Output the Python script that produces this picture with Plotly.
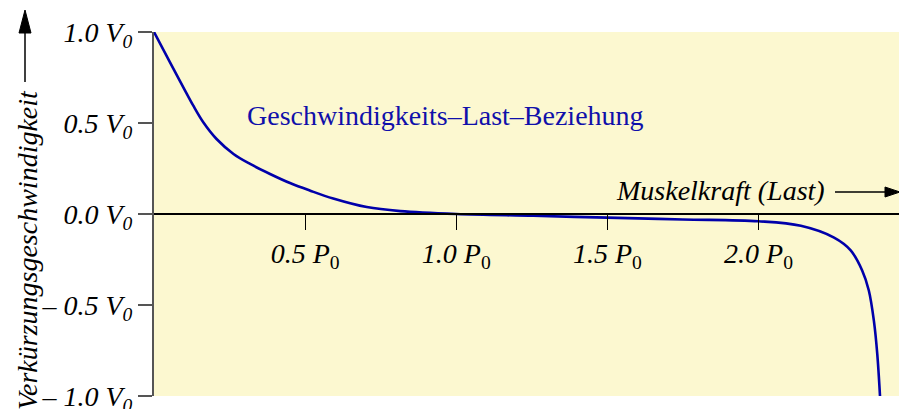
import plotly.graph_objects as go

# Load (in units of P0) and shortening velocity (in units of V0)
load = [0, 0.053, 0.097, 0.130, 0.163, 0.207, 0.263, 0.318, 0.384, 0.450,
        0.517, 0.593, 0.704, 0.815, 1.0, 1.255, 1.5, 1.75, 2.0, 2.14,
        2.25, 2.305, 2.343, 2.365, 2.382, 2.393, 2.402]
velocity = [1.0, 0.833, 0.696, 0.595, 0.504, 0.412, 0.330, 0.275, 0.220, 0.170,
            0.128, 0.085, 0.038, 0.016, 0.0, -0.01, -0.02, -0.03, -0.04, -0.065,
            -0.13, -0.20, -0.31, -0.42, -0.59, -0.77, -1.0]

x_ticks = [0.5, 1.0, 1.5, 2.0]
x_labels = ["<i>0.5 P</i><sub>0</sub>", "<i>1.0 P</i><sub>0</sub>",
            "<i>1.5 P</i><sub>0</sub>", "<i>2.0 P</i><sub>0</sub>"]
y_ticks = [-1.0, -0.5, 0.0, 0.5, 1.0]
y_labels = ["– <i>1.0 V<sub>0</sub></i>", "– <i>0.5 V<sub>0</sub></i>",
            "<i>0.0 V<sub>0</sub></i>", "<i>0.5 V<sub>0</sub></i>",
            "<i>1.0 V<sub>0</sub></i>"]

W, H = 899, 409
L, R, T, B = 154, 0, 32, 13
SERIF = "Liberation Serif"
FS = 28


def px(xp):
    return (xp - L) / (W - L - R)


def py(yp):
    return (H - B - yp) / (H - T - B)


fig = go.Figure()
fig.add_trace(go.Scatter(
    x=load, y=velocity, mode="lines",
    line=dict(color="#0000AA", width=2.6, shape="spline", smoothing=1.0),
    hoverinfo="skip", showlegend=False, cliponaxis=True,
))

fig.update_layout(
    width=W, height=H, autosize=False,
    margin=dict(l=L, r=R, t=T, b=B, pad=0),
    paper_bgcolor="white", plot_bgcolor="#FCF8D0",
    font=dict(family=SERIF, size=FS, color="black"),
    xaxis=dict(
        range=[0, (W - L - R) / 302.25], anchor="free", position=0.5, automargin=False,
        showgrid=False, zeroline=False, showline=True, linecolor="black", linewidth=1.5,
        ticks="outside", ticklen=15, tickwidth=1.2, tickcolor="black",
        tickvals=x_ticks, ticktext=x_labels, tickfont=dict(family=SERIF, size=FS),
    ),
    yaxis=dict(
        range=[-1, 1], automargin=False, showgrid=False, zeroline=False,
        showline=True, linecolor="#555555", linewidth=2,
        ticks="outside", ticklen=14, tickwidth=1.5, tickcolor="#555555",
        tickvals=y_ticks, ticktext=y_labels, tickfont=dict(family=SERIF, size=FS),
        ticklabeloverflow="allow",
    ),
)

# Curve caption
fig.add_annotation(
    x=0.301, y=0.54, xref="x", yref="y", xanchor="left", yanchor="middle",
    text="Geschwindigkeits–Last–Beziehung", showarrow=False,
    font=dict(family=SERIF, size=FS, color="#1010AA"),
)

# Horizontal axis title with arrow
fig.add_annotation(
    x=px(827), y=py(190), xref="paper", yref="paper", xanchor="right", yanchor="middle",
    text="<i>Muskelkraft (Last)</i>", showarrow=False,
    font=dict(family=SERIF, size=FS, color="black"),
)
fig.add_shape(type="line", xref="paper", yref="paper",
              x0=px(835), y0=py(192), x1=px(888), y1=py(192),
              line=dict(color="black", width=1.5))
fig.add_shape(type="path", xref="paper", yref="paper",
              path=f"M {px(885)} {py(187)} L {px(900)} {py(192)} L {px(885)} {py(197)} Z",
              fillcolor="black", line=dict(color="black", width=1))

# Vertical axis title with arrow
fig.add_annotation(
    x=px(27), y=py(250), xref="paper", yref="paper", xanchor="center", yanchor="middle",
    text="<i>Verkürzungsgeschwindigkeit</i>", textangle=-90, showarrow=False,
    font=dict(family=SERIF, size=FS, color="black"),
)
fig.add_shape(type="line", xref="paper", yref="paper",
              x0=px(25), y0=py(82), x1=px(25), y1=py(30),
              line=dict(color="black", width=1.5))
fig.add_shape(type="path", xref="paper", yref="paper",
              path=f"M {px(19)} {py(33)} L {px(25)} {py(10)} L {px(31)} {py(33)} Z",
              fillcolor="black", line=dict(color="black", width=1))

fig.write_html("out.html")
